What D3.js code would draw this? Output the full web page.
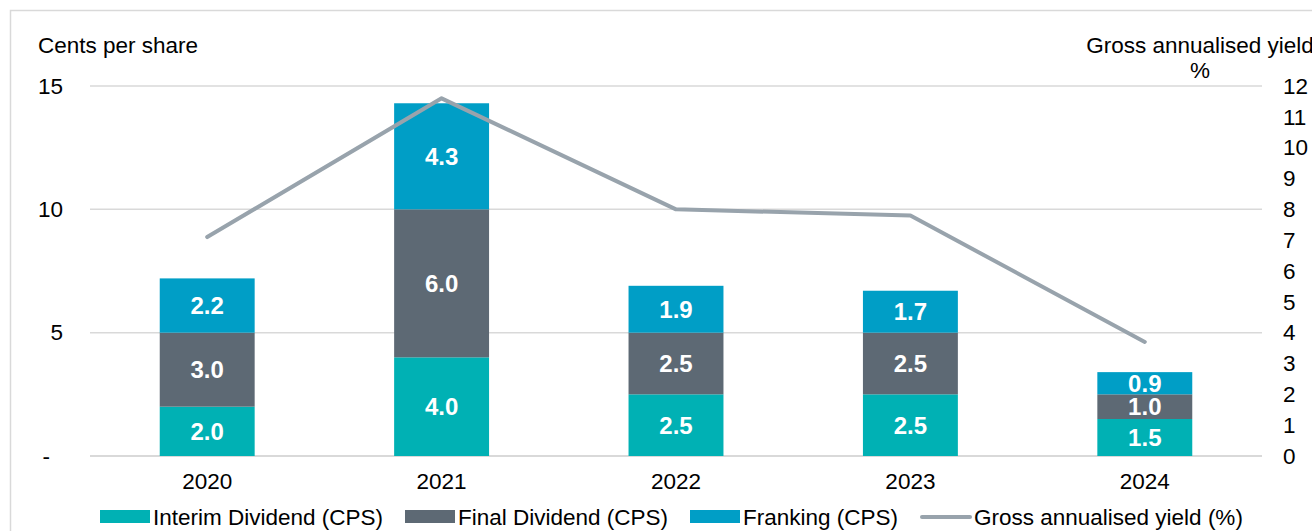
<!DOCTYPE html>
<html>
<head>
<meta charset="utf-8">
<script src="https://cdn.jsdelivr.net/npm/d3@7"></script>
<style>
  body { margin: 0; background: #fff; }
  svg { display: block; font-family: "Liberation Sans", Arial, sans-serif; }
</style>
</head>
<body>
<svg width="1312" height="531"></svg>
<script>
// chart data
var years = ["2020", "2021", "2022", "2023", "2024"];
var interim = [2.0, 4.0, 2.5, 2.5, 1.5];
var finalDiv = [3.0, 6.0, 2.5, 2.5, 1.0];
var franking = [2.2, 4.3, 1.9, 1.7, 0.9];
var grossYield = [7.1, 11.6, 8.0, 7.8, 3.7];
var leftTicks = [0, 5, 10, 15];
var rightTicks = [0, 1, 2, 3, 4, 5, 6, 7, 8, 9, 10, 11, 12];
var seriesNames = ["Interim Dividend (CPS)", "Final Dividend (CPS)", "Franking (CPS)"];
var seriesColors = ["#00b1b4", "#5d6974", "#009ec6"];
var lineColor = "#98a3ac";

var svg = d3.select("svg");
var plotLeft = 90, plotRight = 1262, plotTop = 86, plotBottom = 456;
var fs = "22.5px";

// frame
svg.append("path")
  .attr("d", "M10.5,531 L10.5,10.5 L1312,10.5")
  .attr("fill", "none").attr("stroke", "#d9d9d9").attr("stroke-width", 1.5);

var x = d3.scaleBand().domain(years).range([plotLeft, plotRight]);
var y = d3.scaleLinear().domain([0, 15]).range([plotBottom, plotTop]);
var y2 = d3.scaleLinear().domain([0, 12]).range([plotBottom, plotTop]);

// gridlines
svg.append("g").selectAll("line")
  .data(leftTicks)
  .enter().append("line")
  .attr("x1", plotLeft).attr("x2", plotRight)
  .attr("y1", function(d) { return y(d); })
  .attr("y2", function(d) { return y(d); })
  .attr("stroke", "#d9d9d9").attr("stroke-width", function(d) { return d == 0 ? 2 : 1.5; });

// left axis
var yAxis = svg.append("g")
  .attr("transform", "translate(" + 63 + ",0)")
  .call(d3.axisLeft(y).tickValues(leftTicks).tickSize(0).tickPadding(0)
    .tickFormat(function(d) { return d == 0 ? "-" : d; }));
yAxis.select(".domain").remove();
yAxis.selectAll("text").attr("font-size", fs).attr("fill", "#000")
  .attr("font-family", "Liberation Sans, Arial, sans-serif")
  .attr("dx", function(d) { return d == 0 ? "-13" : 0; });

// right axis
var yAxis2 = svg.append("g")
  .attr("transform", "translate(" + 1283 + ",0)")
  .call(d3.axisRight(y2).tickValues(rightTicks).tickSize(0).tickPadding(0));
yAxis2.select(".domain").remove();
yAxis2.selectAll("text").attr("font-size", fs).attr("fill", "#000")
  .attr("font-family", "Liberation Sans, Arial, sans-serif");

// x axis labels
var xAxis = svg.append("g")
  .attr("transform", "translate(0," + plotBottom + ")")
  .call(d3.axisBottom(x).tickSize(0).tickPadding(17));
xAxis.select(".domain").remove();
xAxis.selectAll("text").attr("font-size", fs).attr("fill", "#000")
  .attr("font-family", "Liberation Sans, Arial, sans-serif");

// axis titles
svg.append("text").attr("x", 38).attr("y", 53)
  .attr("font-size", fs).text("Cents per share");
svg.append("text").attr("x", 1200).attr("y", 53)
  .attr("text-anchor", "middle").attr("font-size", fs).text("Gross annualised yield");
svg.append("text").attr("x", 1200).attr("y", 78)
  .attr("text-anchor", "middle").attr("font-size", fs).text("%");

// stacked bars
var rows = years.map(function(yr, i) {
  return { year: yr, s0: interim[i], s1: finalDiv[i], s2: franking[i] };
});
var stack = d3.stack().keys(["s0", "s1", "s2"]);
var layers = stack(rows);
var barW = x.bandwidth() * 0.405;

var groups = svg.append("g").selectAll("g")
  .data(layers)
  .enter().append("g")
  .attr("fill", function(d, i) { return seriesColors[i]; });

groups.selectAll("rect")
  .data(function(d) { return d; })
  .enter().append("rect")
  .attr("x", function(d) { return x(d.data.year) + (x.bandwidth() - barW) / 2; })
  .attr("y", function(d) { return y(d[1]); })
  .attr("width", barW)
  .attr("height", function(d) { return y(d[0]) - y(d[1]); });

groups.selectAll("text")
  .data(function(d) { return d; })
  .enter().append("text")
  .attr("x", function(d) { return x(d.data.year) + x.bandwidth() / 2; })
  .attr("y", function(d) { return (y(d[0]) + y(d[1])) / 2; })
  .attr("dy", "0.36em")
  .attr("text-anchor", "middle")
  .attr("fill", "#fff")
  .attr("font-weight", "bold")
  .attr("font-size", "24px")
  .text(function(d) { return (d[1] - d[0]).toFixed(1); });

// yield line
var line = d3.line()
  .x(function(d, i) { return x(years[i]) + x.bandwidth() / 2; })
  .y(function(d) { return y2(d); });
svg.append("path")
  .datum(grossYield)
  .attr("d", line)
  .attr("fill", "none")
  .attr("stroke", lineColor)
  .attr("stroke-width", 4)
  .attr("stroke-linecap", "round")
  .attr("stroke-linejoin", "round");

// legend
var legendX = [100, 405, 690];
seriesNames.forEach(function(name, i) {
  svg.append("rect").attr("x", legendX[i]).attr("y", 510).attr("width", 50).attr("height", 13)
    .attr("fill", seriesColors[i]);
  svg.append("text").attr("x", legendX[i] + 53).attr("y", 525)
    .attr("font-size", fs).text(name);
});
svg.append("line").attr("x1", 922).attr("x2", 970).attr("y1", 517).attr("y2", 517)
  .attr("stroke", lineColor).attr("stroke-width", 4).attr("stroke-linecap", "round");
svg.append("text").attr("x", 974).attr("y", 525)
  .attr("font-size", fs).text("Gross annualised yield (%)");
</script>
</body>
</html>
